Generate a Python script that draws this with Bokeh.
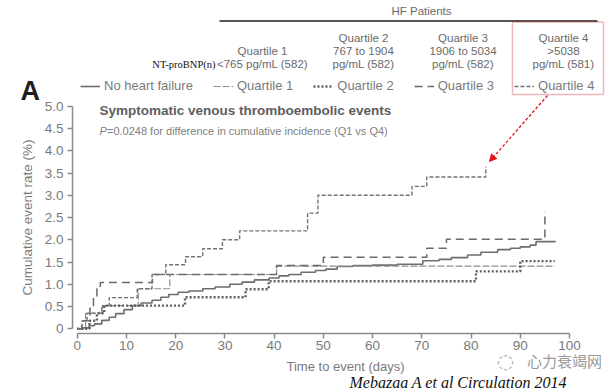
import math
from bokeh.plotting import figure
from bokeh.models import (Range1d, FixedTicker, PrintfTickFormatter, Label, Legend, LegendItem,
                          BoxAnnotation, Arrow, NormalHead, LinearAxis)
from bokeh.embed import file_html
from bokeh.resources import INLINE

# ---------------- data ----------------
no_hf_days = [0, 1, 2.4, 3.5, 5, 6.5, 7.8, 9.5, 11.2, 13, 15.2, 17, 18.6, 20.5, 22.7, 25.5, 28, 31,
              33.5, 36, 39, 41, 43, 45.5, 48.4, 50.5, 52.8, 56, 60, 65, 70.2, 73.5, 76, 79.3, 82,
              85.4, 88, 90, 92, 93.2, 97.2]
no_hf_vals = [0, 0.02, 0.07, 0.11, 0.19, 0.26, 0.34, 0.43, 0.52, 0.58, 0.64, 0.71, 0.77, 0.82, 0.85,
              0.90, 0.94, 1.00, 1.05, 1.10, 1.14, 1.19, 1.22, 1.27, 1.31, 1.34, 1.40, 1.42, 1.43,
              1.45, 1.53, 1.56, 1.60, 1.66, 1.72, 1.78, 1.81, 1.84, 1.88, 1.96, 1.96]

q1_days = [0, 1.7, 5.1, 12.4, 18.8, 40.5, 97]
q1_vals = [0, 0.35, 0.52, 0.90, 1.22, 1.41, 1.41]

q2_days = [0, 2.5, 4.0, 5.5, 21.9, 34.2, 38.9, 81, 90, 97]
q2_vals = [0, 0.18, 0.35, 0.52, 0.71, 0.89, 1.07, 1.29, 1.52, 1.52]

q3_days = [0, 0.9, 2.6, 3.3, 4.0, 4.7, 15.3, 40.5, 50, 71, 75, 95]
q3_vals = [0, 0.18, 0.52, 0.71, 0.90, 1.04, 1.22, 1.42, 1.61, 1.81, 2.01, 2.64]

q4_days = [0, 1.0, 2.0, 5.0, 6.5, 12.2, 15.2, 18, 22, 25.5, 29.5, 33, 46.8, 48.9, 68, 71, 83]
q4_vals = [0, 0.18, 0.35, 0.52, 0.70, 0.90, 1.22, 1.44, 1.62, 1.80, 2.00, 2.20, 2.60, 3.00, 3.20, 3.41, 3.65]

legend_labels = ["No heart failure", "Quartile 1", "Quartile 2", "Quartile 3", "Quartile 4"]
header_cols = [["", "Quartile 1", "<765 pg/mL (582)"],
               ["Quartile 2", "767 to 1904", "pg/mL (582)"],
               ["Quartile 3", "1906 to 5034", "pg/mL (582)"],
               ["Quartile 4", ">5038", "pg/mL (581)"]]
x_ticks = list(range(0, 101, 10))
y_ticks = [0, 0.5, 1.0, 1.5, 2.0, 2.5, 3.0, 3.5, 4.0, 4.5, 5.0]

# ---------------- layout calibration (canvas pixels -> data) ----------------
W, H = 616, 392
X0, XS = 76.7, 4.923
Y0, YS = 328.3, 44.5
def dx(px):
    return (px - X0) / XS
def dy(py):
    return (Y0 - py) / YS

SANS = "Liberation Sans"
GRAY = "#7a7a7a"

p = figure(width=W, height=H, output_backend="svg", toolbar_location=None,
           x_range=Range1d(dx(0), dx(W)), y_range=Range1d(dy(H), dy(0)),
           x_axis_type=None, y_axis_type=None,
           min_border_left=0, min_border_bottom=0, min_border_top=0, min_border_right=0)
p.outline_line_color = None
p.grid.visible = False
p.background_fill_color = "white"
p.border_fill_color = "white"

xaxis = LinearAxis(fixed_location=dy(333))
yaxis = LinearAxis(fixed_location=dx(72))
p.add_layout(xaxis, "below")
p.add_layout(yaxis, "left")

for ax in (xaxis, yaxis):
    ax.axis_line_color = "#8a8a8a"
    ax.axis_line_width = 1.5
    ax.major_tick_line_color = "#8a8a8a"
    ax.major_tick_line_width = 1.5
    ax.major_tick_out = 5
    ax.major_tick_in = 0
    ax.minor_tick_line_color = None
    ax.major_label_text_color = GRAY
    ax.major_label_text_font = SANS
    ax.major_label_text_font_size = "13.5px"

xaxis.ticker = FixedTicker(ticks=x_ticks)
xaxis.bounds = (0, 100)
xaxis.major_label_standoff = 2

yaxis.ticker = FixedTicker(ticks=y_ticks)
yaxis.bounds = (0, 5)
yaxis.formatter = PrintfTickFormatter(format="%.1f")
yaxis.major_label_overrides = {0: "0"}
yaxis.major_label_standoff = 4

# ---------------- curves ----------------
r0 = p.step(no_hf_days, no_hf_vals, mode="after", line_color="#6e6e6e", line_width=1.6)
r1 = p.step(q1_days, q1_vals, mode="after", line_color="#8e8e8e", line_width=1.2, line_dash="7 2")
r2 = p.step(q2_days, q2_vals, mode="after", line_color="#5c5c5c", line_width=2.4, line_dash="2 2")
r3 = p.step(q3_days, q3_vals, mode="after", line_color="#6a6a6a", line_width=1.5, line_dash="8 5")
r4 = p.step(q4_days, q4_vals, mode="after", line_color="#727272", line_width=1.4, line_dash="4 2")

legend = Legend(items=[LegendItem(label=l, renderers=[r]) for l, r in
                       zip(legend_labels, [r0, r1, r2, r3, r4])],
                orientation="horizontal", location=(80, H - 95.5),
                padding=0, margin=0, spacing=20, glyph_width=20, glyph_height=20,
                label_standoff=4, label_height=20,
                label_text_font=SANS, label_text_font_size="13px", label_text_color=GRAY,
                border_line_color=None, background_fill_alpha=0)
p.add_layout(legend, "center")

# ---------------- texts ----------------
def lab(text, px, py, size, color=GRAY, align="left", font=SANS, style="normal",
        baseline="middle", angle=0):
    p.add_layout(Label(x=dx(px), y=dy(py), text=text, text_font=font, text_font_size=size,
                       text_color=color, text_align=align, text_baseline=baseline,
                       text_font_style=style, angle=angle))

lab("A", 20, 90, "27px", color="#1e1e1e", style="bold")
lab("Symptomatic venous thromboembolic events", 99, 110, "13.5px", color="#5e5e5e", style="bold")
lab("P", 99, 130, "11px", color="#808080", style="italic")
lab("=0.0248 for difference in cumulative incidence (Q1 vs Q4)", 106.5, 130, "11px", color="#808080")
lab("Cumulative event rate (%)", 27, 217, "13.5px", align="center", angle=math.pi / 2)

# header table
lab("HF Patients", 421, 10, "11.5px", color="#6a6a6a", align="center")
p.add_layout(BoxAnnotation(left=dx(219), right=dx(597), top=dy(19.5), bottom=dy(21.5),
                           fill_color="#555555", fill_alpha=1, line_color=None))
col_x = [262, 363, 462.5, 563]
row_y = [37, 50, 63.5]
for cx, rows in zip(col_x, header_cols):
    for ry, t in zip(row_y, rows):
        if t:
            lab(t, cx, ry, "11.5px", color="#6a6a6a", align="center")
lab("NT-proBNP(n)", 215, 63.5, "10.5px", color="#111111", align="right", font="Liberation Serif")

# red highlight box and arrow
p.add_layout(BoxAnnotation(left=dx(512), right=dx(603), top=dy(21.5), bottom=dy(94),
                           fill_alpha=0, line_color="#c8141e", line_width=1.5))
p.add_layout(Arrow(end=NormalHead(size=7, fill_color="#e0141e", line_color="#e0141e"),
                   x_start=dx(547), y_start=dy(95), x_end=dx(489), y_end=dy(161),
                   line_color="#e0141e", line_width=1.3, line_dash="3 2"))

# x axis title, watermark, citation
lab("Time to event (days)", 345, 366, "13px", align="center")
lab("\u25cc", 505, 360, "20px", color="#b0b0b0", align="center", font="DejaVu Sans")
lab("心力衰竭网", 564, 360, "15px", color="#9a9a9a", align="center", font="Noto Sans CJK SC")
lab("Mebazaa A et al Circulation  2014", 349, 382, "16px", color="#111111",
    font="Liberation Serif", style="italic")

open("out.html", "w").write(file_html(p, INLINE))
